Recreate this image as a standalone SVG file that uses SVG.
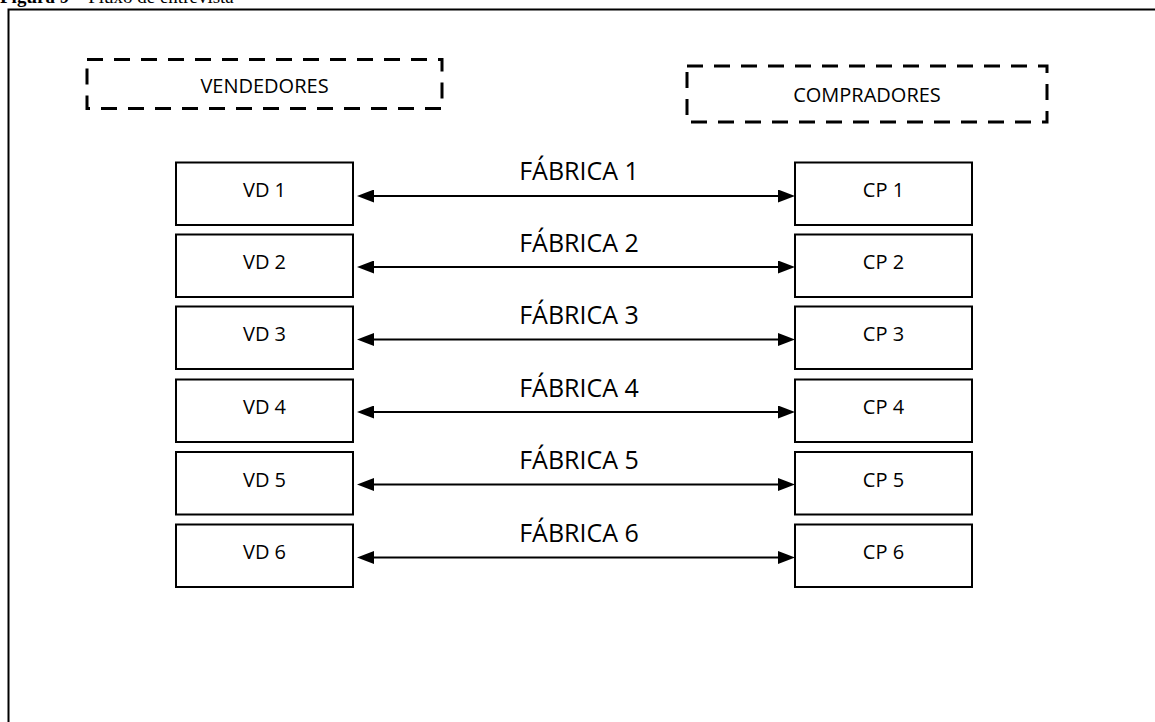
<svg xmlns="http://www.w3.org/2000/svg" width="1155" height="722" viewBox="0 0 1155 722">
<style>
.frame{fill:none;stroke:#000;stroke-width:2}
.grp{fill:#fff;stroke:#000;stroke-width:3;stroke-dasharray:16 11}
.box{fill:#fff;stroke:#000;stroke-width:2}
.lbl{font-family:"Open Sans","Liberation Sans",sans-serif;font-size:20px;fill:#000;text-anchor:middle}
.fab{font-family:"Open Sans","Liberation Sans",sans-serif;font-size:25px;fill:#000;text-anchor:middle}
.conn{stroke:#000;stroke-width:2;fill:none;marker-start:url(#ah);marker-end:url(#ah)}
.cap{font-family:"Liberation Serif","Times New Roman",serif;font-size:19px;fill:#000}
</style>
<defs>
<marker id="ah" markerUnits="userSpaceOnUse" markerWidth="17" markerHeight="13" refX="7" refY="6.5" orient="auto-start-reverse">
<path d="M0,0 L17,6.5 L0,13 z" fill="#000"/>
</marker>
</defs>
<rect width="1155" height="722" fill="#fff"/>
<text class="cap" x="0" y="2.5"><tspan font-weight="bold">Figura 9 – </tspan>Fluxo de entrevista</text>
<path class="frame" d="M8.5,722 V9.5 H1155"/>

<g id="vendedores">
<rect class="grp" x="87" y="59.5" width="355" height="49"/>
<text class="lbl" x="264.5" y="92.5">VENDEDORES</text>
</g>
<g id="compradores">
<rect class="grp" x="687" y="66" width="360" height="56"/>
<text class="lbl" x="867" y="101.5">COMPRADORES</text>
</g>

<g id="vd1"><rect class="box" x="176" y="162.5" width="177" height="62.5"/><text class="lbl" x="264.5" y="197">VD 1</text></g>
<g id="vd2"><rect class="box" x="176" y="234.5" width="177" height="62.5"/><text class="lbl" x="264.5" y="269">VD 2</text></g>
<g id="vd3"><rect class="box" x="176" y="306.5" width="177" height="62.5"/><text class="lbl" x="264.5" y="341">VD 3</text></g>
<g id="vd4"><rect class="box" x="176" y="379.5" width="177" height="62.5"/><text class="lbl" x="264.5" y="414">VD 4</text></g>
<g id="vd5"><rect class="box" x="176" y="452" width="177" height="62.5"/><text class="lbl" x="264.5" y="486.5">VD 5</text></g>
<g id="vd6"><rect class="box" x="176" y="524.5" width="177" height="62.5"/><text class="lbl" x="264.5" y="559">VD 6</text></g>

<g id="cp1"><rect class="box" x="795" y="162.5" width="177" height="62.5"/><text class="lbl" x="883.5" y="197">CP 1</text></g>
<g id="cp2"><rect class="box" x="795" y="234.5" width="177" height="62.5"/><text class="lbl" x="883.5" y="269">CP 2</text></g>
<g id="cp3"><rect class="box" x="795" y="306.5" width="177" height="62.5"/><text class="lbl" x="883.5" y="341">CP 3</text></g>
<g id="cp4"><rect class="box" x="795" y="379.5" width="177" height="62.5"/><text class="lbl" x="883.5" y="414">CP 4</text></g>
<g id="cp5"><rect class="box" x="795" y="452" width="177" height="62.5"/><text class="lbl" x="883.5" y="486.5">CP 5</text></g>
<g id="cp6"><rect class="box" x="795" y="524.5" width="177" height="62.5"/><text class="lbl" x="883.5" y="559">CP 6</text></g>

<g id="connectors">
<line class="conn" x1="367" y1="196" x2="785" y2="196"/>
<line class="conn" x1="367" y1="267" x2="785" y2="267"/>
<line class="conn" x1="367" y1="339.5" x2="785" y2="339.5"/>
<line class="conn" x1="367" y1="412" x2="785" y2="412"/>
<line class="conn" x1="367" y1="484.5" x2="785" y2="484.5"/>
<line class="conn" x1="367" y1="557.5" x2="785" y2="557.5"/>
<text class="fab" x="579" y="180">FÁBRICA 1</text>
<text class="fab" x="579" y="252">FÁBRICA 2</text>
<text class="fab" x="579" y="324">FÁBRICA 3</text>
<text class="fab" x="579" y="397">FÁBRICA 4</text>
<text class="fab" x="579" y="469">FÁBRICA 5</text>
<text class="fab" x="579" y="542">FÁBRICA 6</text>
</g>
</svg>
